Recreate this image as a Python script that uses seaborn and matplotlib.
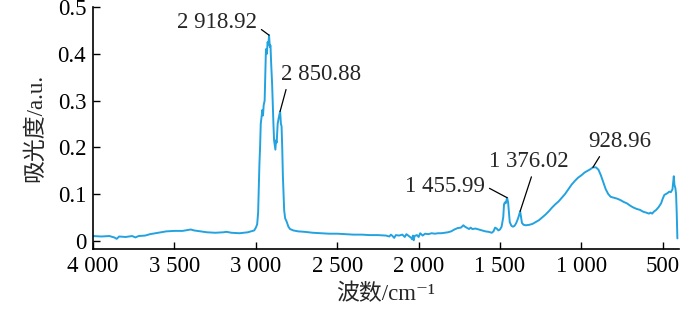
import numpy as np
import pandas as pd
import seaborn as sns
import matplotlib
matplotlib.use('Agg')
import matplotlib.pyplot as plt

# spectrum (wavenumber, absorbance)
wavenumber = [
    4000, 3950, 3900, 3870, 3855, 3840, 3800, 3760, 3740, 3720, 3680, 3650,
    3600, 3550, 3500, 3450, 3400, 3380, 3340, 3300, 3250, 3200, 3180, 3150,
    3100, 3050, 3010, 3000, 2992, 2986, 2982, 2978, 2974, 2970, 2965, 2960,
    2956, 2952, 2946, 2942, 2938, 2932, 2928, 2923, 2918.92, 2914, 2910,
    2906, 2900, 2896, 2892, 2888, 2884, 2880, 2876, 2872, 2866, 2860, 2855,
    2850.88, 2846, 2842, 2838, 2834, 2830, 2826, 2820, 2812, 2800, 2790,
    2770, 2740, 2700, 2650, 2600, 2550, 2500, 2450, 2400, 2350, 2300, 2250,
    2200, 2180, 2170, 2160, 2150, 2140, 2120, 2100, 2085, 2075, 2060, 2045,
    2040, 2035, 2030, 2025, 2010, 2000, 1990, 1975, 1960, 1940, 1920, 1900,
    1880, 1860, 1840, 1820, 1800, 1780, 1760, 1740, 1725, 1715, 1700, 1690,
    1680, 1670, 1650, 1630, 1610, 1590, 1570, 1550, 1540, 1530, 1520, 1510,
    1500, 1490, 1480, 1475, 1470, 1465, 1455.99, 1450, 1445, 1440, 1430,
    1420, 1410, 1400, 1392, 1385, 1376.02, 1370, 1365, 1355, 1340, 1320,
    1300, 1280, 1260, 1240, 1220, 1200, 1180, 1160, 1140, 1120, 1100, 1080,
    1060, 1040, 1020, 1000, 980, 960, 945, 928.96, 910, 895, 880, 865, 850,
    835, 820, 800, 780, 760, 740, 720, 700, 680, 660, 640, 620, 600, 585,
    575, 565, 555, 540, 525, 510, 500, 490, 480, 470, 460, 450, 440, 432,
    428, 422, 418, 414, 410,
]
absorbance = [
    0.010, 0.009, 0.010, 0.007, 0.004, 0.009, 0.008, 0.010, 0.007, 0.010, 0.011, 0.014,
    0.017, 0.020, 0.021, 0.021, 0.024, 0.022, 0.020, 0.018, 0.017, 0.018, 0.019, 0.017,
    0.016, 0.018, 0.022, 0.028, 0.035, 0.060, 0.110, 0.165, 0.200, 0.250, 0.265, 0.280,
    0.268, 0.290, 0.300, 0.360, 0.410, 0.400, 0.425, 0.420, 0.440, 0.415, 0.418,
    0.380, 0.335, 0.290, 0.250, 0.215, 0.205, 0.195, 0.215, 0.210, 0.250, 0.262, 0.270,
    0.277, 0.250, 0.245, 0.200, 0.140, 0.100, 0.065, 0.048, 0.042, 0.030, 0.025,
    0.022, 0.020, 0.019, 0.017, 0.016, 0.015, 0.015, 0.014, 0.013, 0.013, 0.012, 0.012,
    0.011, 0.009, 0.013, 0.010, 0.006, 0.012, 0.011, 0.013, 0.008, 0.014, 0.010, 0.006,
    0.003, 0.011, 0.001, 0.010, 0.012, 0.008, 0.016, 0.011, 0.015, 0.014, 0.016, 0.015,
    0.016, 0.016, 0.017, 0.018, 0.020, 0.024, 0.027, 0.028, 0.033, 0.030, 0.027, 0.025,
    0.028, 0.025, 0.026, 0.024, 0.022, 0.020, 0.019, 0.017, 0.020, 0.028, 0.026, 0.022,
    0.024, 0.030, 0.050, 0.078, 0.082, 0.080, 0.092, 0.082, 0.060, 0.040, 0.032,
    0.030, 0.032, 0.038, 0.045, 0.052, 0.063, 0.050, 0.038, 0.034, 0.033, 0.034,
    0.036, 0.040, 0.044, 0.050, 0.056, 0.063, 0.071, 0.078, 0.084, 0.092, 0.100, 0.110,
    0.120, 0.128, 0.135, 0.140, 0.146, 0.150, 0.153, 0.157, 0.157, 0.152, 0.140, 0.125, 0.110,
    0.100, 0.094, 0.092, 0.090, 0.087, 0.083, 0.080, 0.075, 0.071, 0.068, 0.066, 0.062, 0.060, 0.058,
    0.060, 0.058, 0.062, 0.066, 0.072, 0.080, 0.090, 0.098, 0.100, 0.102, 0.105, 0.104, 0.110, 0.138,
    0.120, 0.112, 0.100, 0.060, 0.005,
]

x_ticks = [4000, 3500, 3000, 2500, 2000, 1500, 1000, 500]
x_tick_labels = ['4 000', '3 500', '3 000', '2 500', '2 000', '1 500', '1 000', '500']
y_ticks = [0, 0.1, 0.2, 0.3, 0.4, 0.5]
y_tick_labels = ['0', '0.1', '0.2', '0.3', '0.4', '0.5']

# peak labels: (wavenumber, absorbance, text, text position, alignment, line anchor on text)
peaks = [
    (2918.92, 0.440, '2 918.92', (2993, 0.468), 'right', (1.0, 0.3)),
    (2850.88, 0.277, '2 850.88', (2600, 0.356), 'center', (0.08, 0.0)),
    (1455.99, 0.092, '1 455.99', (1838, 0.115), 'center', (1.0, 0.55)),
    (1376.02, 0.063, '1 376.02', (1322, 0.169), 'center', (0.55, 0.0)),
    (928.96, 0.157, '928.96', (763, 0.212), 'center', (0.22, 0.0)),
]

df = pd.DataFrame({'wavenumber': wavenumber, 'absorbance': absorbance})

sns.set_style('ticks')
plt.rcParams['font.family'] = ['Liberation Serif', 'DejaVu Serif', 'Noto Sans CJK SC']
plt.rcParams['xtick.direction'] = 'in'
plt.rcParams['ytick.direction'] = 'in'

fs = 16.5
fig = plt.figure(figsize=(7, 3.11), dpi=100)
ax = fig.add_axes([0.133, 0.199, 0.837, 0.778])

sns.lineplot(data=df, x='wavenumber', y='absorbance', sort=False,
             estimator=None, color='#23a2e0', linewidth=1.4, ax=ax)

ax.set_xlim(4000, 400)
ax.set_ylim(-0.018, 0.5)
ax.set_xticks(x_ticks)
ax.set_xticklabels(x_tick_labels)
ax.set_yticks(y_ticks)
ax.set_yticklabels(y_tick_labels)
ax.tick_params(labelsize=fs, length=5, width=1, colors='black', pad=5)
for side in ['top', 'right']:
    ax.spines[side].set_visible(False)
for side in ['left', 'bottom']:
    ax.spines[side].set_linewidth(1.2)
    ax.spines[side].set_color('black')

ax.set_xlabel('波数/cm⁻¹', fontsize=fs, labelpad=5)
ax.set_ylabel('吸光度/a.u.', fontsize=fs, labelpad=8)

for wn, ab, label, pos, ha, rel in peaks:
    ax.annotate(label, xy=(wn, ab), xytext=pos, fontsize=fs,
                ha=ha, va='center',
                arrowprops=dict(arrowstyle='-', color='black', lw=0.9,
                                relpos=rel, shrinkA=1, shrinkB=0))

fig.savefig('out.png', dpi=100)
